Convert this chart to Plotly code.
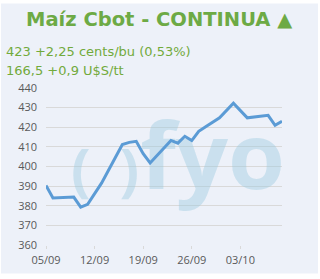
import plotly.graph_objects as go
import datetime as dt

# ---- data ----
base = dt.date(2016, 9, 5)
day_offsets = [0, 1, 4, 5, 6, 8, 11, 12, 13, 14, 15, 17, 18, 19, 20, 21, 22, 23, 25, 27, 29, 32, 33, 34]
prices = [390.3, 384.0, 384.4, 379.3, 380.7, 391.5, 411.2, 412.3, 412.8, 406.5, 401.8,
          409.3, 413.3, 411.9, 415.4, 413.2, 417.9, 420.3, 424.8, 432.3, 424.8, 426.1, 421.0, 423.1]
dates = [(base + dt.timedelta(days=d)).isoformat() for d in day_offsets]

tick_days = [0, 7, 14, 21, 28]
tick_vals = [(base + dt.timedelta(days=d)).isoformat() for d in tick_days]
tick_text = ["05/09", "12/09", "19/09", "26/09", "03/10"]
y_ticks = [360, 370, 380, 390, 400, 410, 420, 430, 440]

title_text = "Maíz Cbot - CONTINUA ▲"
line1 = "423 +2,25 cents/bu (0,53%)"
line2 = "166,5 +0,9 U$S/tt"

BG = "#EDF1F9"
WM = "rgba(150,200,222,0.40)"

W, H = 320, 279
L, R, T, B = 46, 38, 88, 31
pw, ph = W - L - R, H - T - B

def px(x):
    return (x - L) / pw

def py(y):
    return (H - B - y) / ph

def dday(d):
    return (base + dt.timedelta(days=d)).isoformat()

fig = go.Figure()

# watermark (text traces, drawn below the line)
fig.add_trace(go.Scatter(
    x=[dday(24.9)], y=[400.5],
    mode="text", text=["fyo"], textposition="middle center",
    textfont=dict(family="Open Sans", size=92, color=WM, weight=700),
    cliponaxis=False, hoverinfo="skip", showlegend=False))
fig.add_trace(go.Scatter(
    x=[dday(5.3), dday(12.8)], y=[395.5, 395.5],
    mode="text", text=["(", ")"], textposition="middle center",
    textfont=dict(family="Open Sans", size=58, color=WM, weight=700),
    cliponaxis=False, hoverinfo="skip", showlegend=False))

fig.add_trace(go.Scatter(
    x=dates, y=prices, mode="lines",
    line=dict(color="#5B9BD5", width=3),
    cliponaxis=False, showlegend=False))

fig.add_shape(type="rect", xref="paper", yref="paper",
              x0=px(1), x1=px(318), y0=py(277), y1=py(2),
              fillcolor=BG, line=dict(width=0), layer="below")

fig.add_annotation(xref="paper", yref="paper", x=px(159), y=py(18),
                   text="<b>" + title_text + "</b>", showarrow=False,
                   xanchor="center", yanchor="middle",
                   font=dict(family="DejaVu Sans", size=19.5, color="#6DAA45"))
fig.add_annotation(xref="paper", yref="paper", x=px(4), y=py(51),
                   text=line1, showarrow=False, xanchor="left", yanchor="middle",
                   font=dict(family="DejaVu Sans", size=13, color="#72AA3C"))
fig.add_annotation(xref="paper", yref="paper", x=px(4), y=py(70),
                   text=line2, showarrow=False, xanchor="left", yanchor="middle",
                   font=dict(family="DejaVu Sans", size=13, color="#72AA3C"))

fig.update_layout(
    width=W, height=H,
    margin=dict(l=L, r=R, t=T, b=B, pad=0),
    paper_bgcolor="white", plot_bgcolor="rgba(0,0,0,0)",
    xaxis=dict(type="date",
               range=[base.isoformat(), dday(34)],
               tickvals=tick_vals, ticktext=tick_text,
               showgrid=False, zeroline=False, showline=False,
               ticks="outside", ticklen=3, tickcolor="#D9D9D9",
               ticklabelstandoff=2,
               tickfont=dict(family="Open Sans", size=11, color="#595959")),
    yaxis=dict(range=[360, 440], tickvals=y_ticks,
               showgrid=True, gridcolor="#D9D9D9", gridwidth=1,
               zeroline=False, showline=False, ticks="",
               ticklabelstandoff=8,
               tickfont=dict(family="Open Sans", size=11, color="#595959")),
)

fig.write_html("out.html")
